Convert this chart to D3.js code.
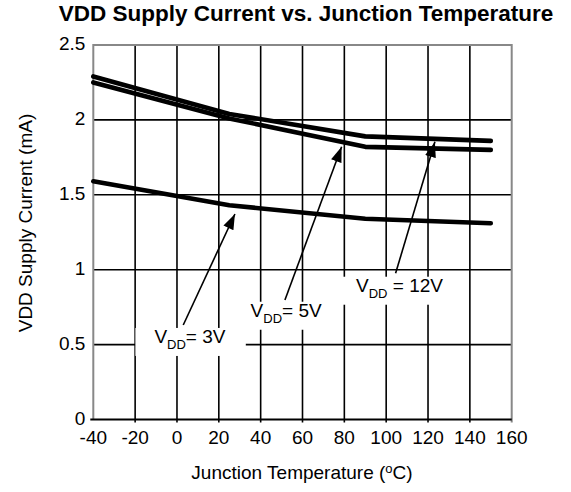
<!DOCTYPE html>
<html>
<head>
<meta charset="utf-8">
<script src="https://cdn.jsdelivr.net/npm/d3@7"></script>
<style>
  body { margin: 0; background: #fff; }
  text { font-family: "Liberation Sans", Arial, sans-serif; fill: #000; }
</style>
</head>
<body>
<script>
var anchoSvg = 571,
    altoSvg = 492,
    margen = {sup: 45, dcho: 59.3, izq: 93.3, inf: 72.5};

// datos
var temperaturas = [-40, 25, 90, 150];
var vdd3V  = [1.59, 1.43, 1.34, 1.31];
var vdd5V  = [2.25, 2.01, 1.82, 1.80];
var vdd12V = [2.29, 2.04, 1.89, 1.86];
var ticksX = [-40, -20, 0, 20, 40, 60, 80, 100, 120, 140, 160];
var ticksY = [0, 0.5, 1, 1.5, 2, 2.5];

// anotaciones (en unidades de datos)
var etiquetas = [
  {texto: "= 3V",  x: -10.8, y: 0.511, padX: [19, 20], origen: [3.0, 0.631], punta: [27.7, 1.372]},
  {texto: "= 5V",  x: 35.2,  y: 0.686, padX: [6, 4],   origen: [51.6, 0.798], punta: [78.7, 1.821]},
  {texto: " = 12V", x: 85.6, y: 0.853, padX: [16, 10], origen: [104.5, 0.976], punta: [123.3, 1.854]}
];

var series = [
  {nombre: "12V", valores: vdd12V},
  {nombre: "5V", valores: vdd5V},
  {nombre: "3V", valores: vdd3V}
];

var escalaX = d3.scaleLinear()
    .domain([-40, 160])
    .range([margen.izq, anchoSvg - margen.dcho]);

var escalaY = d3.scaleLinear()
    .domain([0, 2.5])
    .range([altoSvg - margen.inf, margen.sup]);

var svg = d3.select('body')
    .append('svg')
    .attr('width', anchoSvg)
    .attr('height', altoSvg);

svg.append('defs').append('marker')
    .attr('id', 'flecha')
    .attr('viewBox', '0 0 14 10')
    .attr('refX', 14)
    .attr('refY', 5)
    .attr('markerUnits', 'userSpaceOnUse')
    .attr('markerWidth', 16)
    .attr('markerHeight', 11)
    .attr('orient', 'auto')
    .append('path')
    .attr('d', 'M0,0 L14,5 L0,10 Z')
    .attr('fill', '#000');

// rejilla
var rejilla = svg.append('g').attr('class', 'rejilla');
rejilla.selectAll('.vert')
    .data(ticksX.slice(1, -1))
    .enter()
    .append('line')
    .attr('x1', d => escalaX(d))
    .attr('x2', d => escalaX(d))
    .attr('y1', escalaY(2.5))
    .attr('y2', escalaY(0) + 3)
    .attr('stroke', '#000')
    .attr('stroke-width', 1.6);

rejilla.selectAll('.horiz')
    .data(ticksY.slice(1, -1))
    .enter()
    .append('line')
    .attr('x1', escalaX(-40))
    .attr('x2', escalaX(160))
    .attr('y1', d => escalaY(d))
    .attr('y2', d => escalaY(d))
    .attr('stroke', '#000')
    .attr('stroke-width', 1.6);

// marco gris
svg.append('path')
    .attr('d', 'M' + escalaX(-40) + ',' + escalaY(0) + 'V' + escalaY(2.5) + 'H' + escalaX(160) + 'V' + (escalaY(0) + 3))
    .attr('fill', 'none')
    .attr('stroke', '#888')
    .attr('stroke-width', 2);

// eje X (linea negra)
svg.append('line')
    .attr('x1', escalaX(-40) - 3)
    .attr('x2', escalaX(160))
    .attr('y1', escalaY(0))
    .attr('y2', escalaY(0))
    .attr('stroke', '#000')
    .attr('stroke-width', 1.8);

// etiquetas de los ejes
svg.append('g')
    .selectAll('text')
    .data(ticksX)
    .enter()
    .append('text')
    .attr('x', d => escalaX(d))
    .attr('y', escalaY(0) + 24)
    .attr('text-anchor', 'middle')
    .style('font-size', '19px')
    .text(d => d);

svg.append('g')
    .selectAll('text')
    .data(ticksY)
    .enter()
    .append('text')
    .attr('x', escalaX(-40) - 8)
    .attr('y', d => escalaY(d) + 5)
    .attr('text-anchor', 'end')
    .style('font-size', '19px')
    .text(d => d);

// curvas
var linea = d3.line()
    .x((d, i) => escalaX(temperaturas[i]))
    .y(d => escalaY(d));

svg.append('g')
    .selectAll('path')
    .data(series)
    .enter()
    .append('path')
    .attr('d', d => linea(d.valores))
    .attr('fill', 'none')
    .attr('stroke', '#000')
    .attr('stroke-width', 4.6)
    .attr('stroke-linecap', 'round')
    .attr('stroke-linejoin', 'round');

// anotaciones
var anot = svg.append('g').attr('class', 'anotaciones');
etiquetas.forEach(e => {
    var caja = anot.append('rect').attr('fill', '#fff');
    var t = anot.append('text')
        .attr('x', escalaX(e.x))
        .attr('y', escalaY(e.y))
        .style('font-size', '19px');
    t.append('tspan').text('V');
    t.append('tspan').text('DD').attr('dy', 6).style('font-size', '13px');
    t.append('tspan').text(e.texto).attr('dy', -6);
    var bb = t.node().getBBox();
    caja.attr('x', bb.x - e.padX[0])
        .attr('y', bb.y + 2)
        .attr('width', bb.width + e.padX[0] + e.padX[1])
        .attr('height', bb.height + 2);
    anot.append('line')
        .attr('x1', escalaX(e.origen[0]))
        .attr('y1', escalaY(e.origen[1]))
        .attr('x2', escalaX(e.punta[0]))
        .attr('y2', escalaY(e.punta[1]))
        .attr('stroke', '#000')
        .attr('stroke-width', 1.6)
        .attr('marker-end', 'url(#flecha)');
});

// titulo
svg.append('text')
    .attr('x', 306)
    .attr('y', 21)
    .attr('text-anchor', 'middle')
    .style('font-size', '22.5px')
    .style('font-weight', 'bold')
    .text('VDD Supply Current vs. Junction Temperature');

// titulo eje Y
svg.append('text')
    .attr('transform', 'translate(32,223) rotate(-90)')
    .attr('text-anchor', 'middle')
    .style('font-size', '19px')
    .text('VDD Supply Current (mA)');

// titulo eje X
var tx = svg.append('text')
    .attr('x', 302)
    .attr('y', 479)
    .attr('text-anchor', 'middle')
    .style('font-size', '19px');
tx.append('tspan').text('Junction Temperature (');
tx.append('tspan').text('o').attr('dy', -6).style('font-size', '13px');
tx.append('tspan').text('C)').attr('dy', 6);
</script>
</body>
</html>
